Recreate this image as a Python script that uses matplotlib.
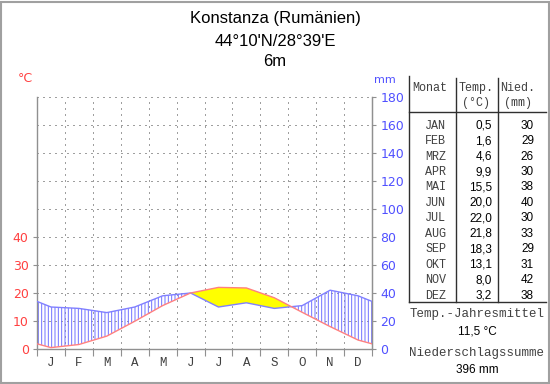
import numpy as np
import matplotlib
matplotlib.use("Agg")
import matplotlib.pyplot as plt
from matplotlib.patches import Rectangle

# climate data for Konstanza
months_short = ["J", "F", "M", "A", "M", "J", "J", "A", "S", "O", "N", "D"]
months_table = ["JAN", "FEB", "MRZ", "APR", "MAI", "JUN", "JUL", "AUG", "SEP", "OKT", "NOV", "DEZ"]
temp = np.array([0.5, 1.6, 4.6, 9.9, 15.5, 20.0, 22.0, 21.8, 18.3, 13.1, 8.0, 3.2])
prec = np.array([30, 29, 26, 30, 38, 40, 30, 33, 29, 31, 42, 38])
temp_ticks = [0, 10, 20, 30, 40]
prec_ticks = [0, 20, 40, 60, 80, 100, 120, 140, 160, 180]

RED = "#ff4040"
BLUE = "#5050ff"
GRID = "#404040"
AXGRAY = "#909090"
TXTGRAY = "#404040"

plt.rcParams["hatch.linewidth"] = 0.7

fig = plt.figure(figsize=(5.5, 3.84), dpi=100)
W, H = 550.0, 384.0

def fx(px):
    return px / W

def fy(py):
    return 1 - py / H

# curves wrap around at the year edges
x = np.concatenate([[0], np.arange(12) + 0.5, [12]])
t_edge = (temp[0] + temp[-1]) / 2
p_edge = (prec[0] + prec[-1]) / 2
t = np.concatenate([[t_edge], temp, [t_edge]])
p = np.concatenate([[p_edge], prec, [p_edge]]) / 2.0

ax = fig.add_axes([fx(37), fy(349), fx(372) - fx(37), fy(97) - fy(349)])
ax.set_xlim(0, 12)
ax.set_ylim(0, 90)

# dotted grid
for yy in np.arange(10, 91, 10):
    ax.plot([0, 12], [yy, yy], color=GRID, lw=0.72, dashes=(1, 5), zorder=1)
for xx in range(1, 12):
    ax.plot([xx, xx], [0, 90], color=GRID, lw=0.72, dashes=(1, 5), zorder=1)

# humid (hatched) and arid (yellow) areas
ax.fill_between(x, t, p, where=p >= t, interpolate=True, facecolor="none",
                edgecolor="#7070ff", hatch="|||||", linewidth=0, zorder=2)
ax.fill_between(x, t, p, where=t > p, interpolate=True, facecolor="#ffff00",
                linewidth=0, zorder=2)
ax.plot(x, p, color="#8080ff", lw=1.0, zorder=3)
ax.plot(x, t, color="#ff8080", lw=1.0, zorder=3)

ax.spines["top"].set_visible(False)
for s in ["left", "right", "bottom"]:
    ax.spines[s].set_color(AXGRAY)
    ax.spines[s].set_linewidth(1.0)

ax.set_yticks(temp_ticks)
ax.set_yticklabels([str(v) for v in temp_ticks], color=RED, fontsize=9)
ax.tick_params(axis="y", length=3, color=AXGRAY, pad=3)
ax.set_xticks(range(13))
ax.set_xticklabels([])
ax.tick_params(axis="x", length=5, color=AXGRAY)
ax.set_xticks(np.arange(12) + 0.5, minor=True)
ax.set_xticklabels(months_short, minor=True, fontsize=9, family="Liberation Mono", color=TXTGRAY)
ax.tick_params(axis="x", which="minor", length=0, pad=6)

ax2 = ax.twinx()
ax2.set_ylim(0, 180)
ax2.set_yticks(prec_ticks)
ax2.set_yticklabels([str(v) for v in prec_ticks], color=BLUE, fontsize=9)
ax2.tick_params(axis="y", length=3, color=AXGRAY, pad=3)
for s in ["top", "left", "bottom"]:
    ax2.spines[s].set_visible(False)
ax2.spines["right"].set_color(AXGRAY)

fig.text(fx(25), fy(78), "°C", color=RED, fontsize=9, ha="center", va="center")
fig.text(fx(385), fy(80), "mm", color=BLUE, fontsize=8, ha="center", va="center")

# title
title_kw = dict(fontsize=12, ha="center", va="center", family="Liberation Sans")
fig.text(fx(275), fy(18), "Konstanza (Rumänien)", **title_kw)
fig.text(fx(275), fy(41), "44°10'N/28°39'E", **title_kw)
fig.text(fx(275), fy(62), "6m", **title_kw)

# table
line_kw = dict(color="#303030", lw=1.0, transform=fig.transFigure)
fig.add_artist(plt.Line2D([fx(409), fx(409)], [fy(76), fy(302)], **line_kw))
fig.add_artist(plt.Line2D([fx(456), fx(456)], [fy(78), fy(302)], **line_kw))
fig.add_artist(plt.Line2D([fx(498), fx(498)], [fy(78), fy(302)], **line_kw))
fig.add_artist(plt.Line2D([fx(409), fx(546)], [fy(112), fy(112)], **line_kw))
fig.add_artist(plt.Line2D([fx(409), fx(546)], [fy(302), fy(302)], **line_kw))

mono = dict(family="Liberation Mono", color=TXTGRAY, fontsize=8.5, va="center")
sans = dict(family="Liberation Sans", color="black", fontsize=8.5, va="center")
fig.text(fx(412), fy(88), "Monat", ha="left", **mono)
fig.text(fx(476), fy(88), "Temp.", ha="center", **mono)
fig.text(fx(476), fy(103), "(°C)", ha="center", **mono)
fig.text(fx(518), fy(88), "Nied.", ha="center", **mono)
fig.text(fx(518), fy(103), "(mm)", ha="center", **mono)

for i in range(12):
    yy = fy(125.7 + i * 15.45)
    fig.text(fx(446), yy, months_table[i], ha="right", **mono)
    fig.text(fx(492), yy, ("%.1f" % temp[i]).replace(".", ","), ha="right", **sans)
    fig.text(fx(534), yy, "%d" % prec[i], ha="right", **sans)

mean_t = temp.mean()
sum_p = prec.sum()
mono_big = dict(mono, fontsize=9)
fig.text(fx(477), fy(314), "Temp.-Jahresmittel", ha="center", **mono_big)
fig.text(fx(477), fy(332), ("%.1f °C" % mean_t).replace(".", ","), ha="center", **sans)
fig.text(fx(477), fy(353), "Niederschlagssumme", ha="center", **mono_big)
fig.text(fx(477), fy(370), "%d mm" % sum_p, ha="center", **sans)

# outer frame
fig.add_artist(Rectangle((0.002, 0.002), 0.996, 0.994, transform=fig.transFigure,
                         fill=False, edgecolor="#a0a0a0", lw=1.5))

fig.savefig("out.png", dpi=100)
